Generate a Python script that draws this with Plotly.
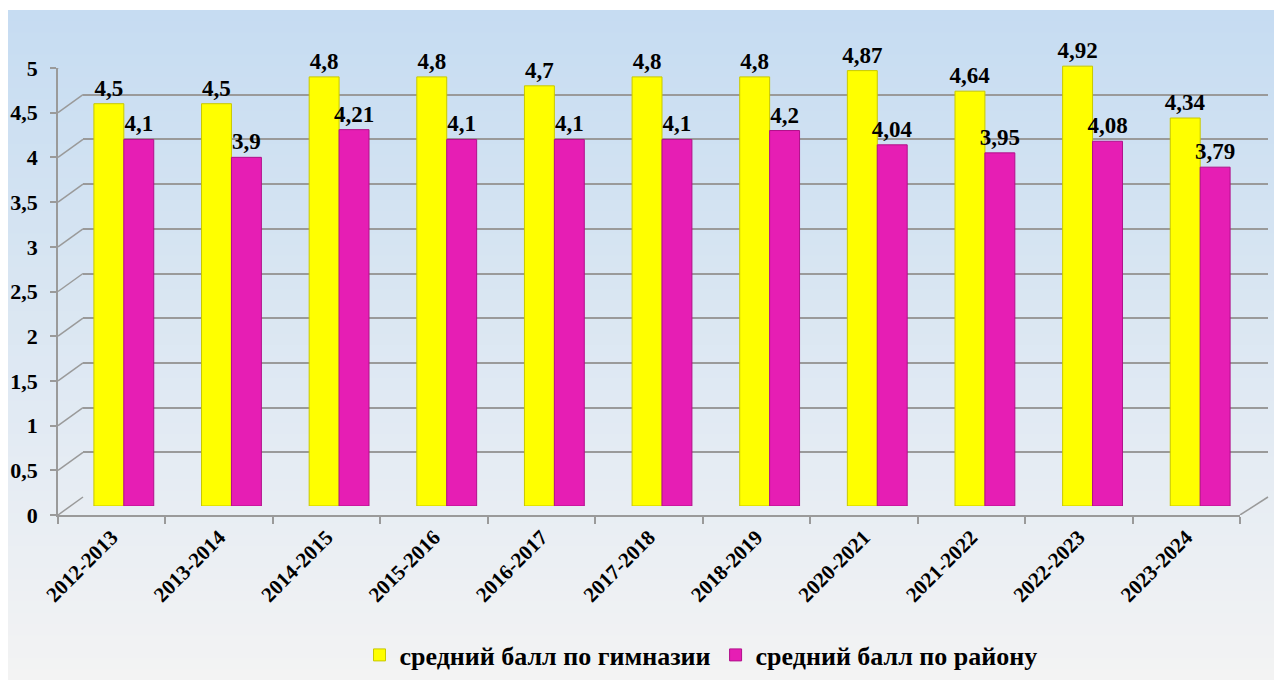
import plotly.graph_objects as go

years = ["2012-2013", "2013-2014", "2014-2015", "2015-2016", "2016-2017", "2017-2018",
         "2018-2019", "2020-2021", "2021-2022", "2022-2023", "2023-2024"]
gymnasium = [4.5, 4.5, 4.8, 4.8, 4.7, 4.8, 4.8, 4.87, 4.64, 4.92, 4.34]
district = [4.1, 3.9, 4.21, 4.1, 4.1, 4.1, 4.2, 4.04, 3.95, 4.08, 3.79]
y_ticks = [0, 0.5, 1, 1.5, 2, 2.5, 3, 3.5, 4, 4.5, 5]

# page adds an 8px body margin, so the figure is shrunk by that much
OFF = 8
W, H = 1282 - OFF, 680 - OFF


def px_x(p):
    return (p - OFF) / W


def px_y(p):
    return 1 - (p - OFF) / H


def comma(v):
    return str(v).replace(".", ",")


font_b = "Liberation Serif"
grid_col = "#9a9a9a"

fig = go.Figure()

# bars sit in the middle of the fake 3d depth
fig.add_trace(go.Bar(
    name="средний балл по гимназии", x=years, y=gymnasium,
    text=[comma(v) for v in gymnasium], textposition="outside",
    marker=dict(color="#ffff00", line=dict(color="#c8c800", width=1)),
    xaxis="x3", yaxis="y3", cliponaxis=False, constraintext="none",
))
fig.add_trace(go.Bar(
    name="средний балл по району", x=years, y=district,
    text=[comma(v) for v in district], textposition="outside",
    marker=dict(color="#e61eb4", line=dict(color="#b0108a", width=1)),
    xaxis="x3", yaxis="y3", cliponaxis=False, constraintext="none",
))
# invisible traces so the front axis and the back wall get drawn
fig.add_trace(go.Bar(x=years, y=[0] * len(years), showlegend=False,
                     hoverinfo="skip", opacity=0, xaxis="x", yaxis="y"))
fig.add_trace(go.Scatter(x=[0.5], y=[0], mode="markers", opacity=0, showlegend=False,
                         hoverinfo="skip", xaxis="x2", yaxis="y2"))

# gradient background
top = (198, 220, 242)
bot = (243, 243, 243)
n = 60
y_top, y_bot = 10, 680
shapes = []
for i in range(n):
    t = i / (n - 1)
    c = tuple(round(top[k] + (bot[k] - top[k]) * t) for k in range(3))
    a = y_top + (y_bot - y_top) * i / n
    b = y_top + (y_bot - y_top) * (i + 1) / n
    shapes.append(dict(type="rect", xref="paper", yref="paper", layer="below",
                       x0=0, x1=1, y0=px_y(b) - 0.002, y1=px_y(a),
                       fillcolor="rgb(%d,%d,%d)" % c, line=dict(width=0)))

# oblique depth lines from front axis to back wall
dy = 18 / 89.4
for v in y_ticks:
    shapes.append(dict(type="line", xref="paper", yref="y",
                       x0=px_x(58), x1=px_x(83), y0=v, y1=v + dy,
                       line=dict(color=grid_col, width=1.5)))
shapes.append(dict(type="line", xref="paper", yref="y",
                   x0=px_x(1240), x1=px_x(1268), y0=0, y1=dy,
                   line=dict(color=grid_col, width=1.5)))

fig.update_layout(
    template="none",
    width=W, height=H,
    margin=dict(l=0, r=0, t=0, b=0, pad=0),
    paper_bgcolor="white",
    plot_bgcolor="rgba(0,0,0,0)",
    separators=", ",
    barmode="group", bargap=0.444, bargroupgap=0,
    shapes=shapes,
    font=dict(family=font_b, color="black"),
    # front axes: labels and ticks
    xaxis=dict(domain=[px_x(58), px_x(1240)], anchor="y", type="category", automargin=False,
               range=[-0.5, 10.5], tickson="boundaries", ticks="outside", ticklen=7,
               tickcolor=grid_col, tickwidth=1.5, showline=True, linecolor=grid_col,
               linewidth=1.5, showgrid=False, tickangle=-45,
               tickfont=dict(family=font_b, size=21, color="black", weight="bold")),
    yaxis=dict(domain=[px_y(515), px_y(68)], anchor="x", range=[0, 5], automargin=False,
               tickvals=y_ticks, ticks="outside", ticklen=6, tickcolor=grid_col,
               tickwidth=1.5, showline=True, linecolor=grid_col, linewidth=1.5,
               showgrid=False, zeroline=False, ticklabelstandoff=8,
               tickfont=dict(family=font_b, size=22, color="black", weight="bold")),
    # back wall: gridlines only
    xaxis2=dict(domain=[px_x(83), px_x(1268)], anchor="y2", range=[0, 1], automargin=False,
                showticklabels=False, showgrid=False, zeroline=False, showline=False),
    yaxis2=dict(domain=[px_y(497), px_y(50)], anchor="x2", range=[0, 5], automargin=False,
                tickvals=y_ticks, showticklabels=False, showgrid=True,
                gridcolor=grid_col, gridwidth=1.5, zeroline=False, showline=False),
    # middle depth: bars
    xaxis3=dict(domain=[px_x(70), px_x(1254)], anchor="y3", type="category", automargin=False,
                range=[-0.5, 10.5], showticklabels=False, showgrid=False,
                zeroline=False, showline=False),
    yaxis3=dict(domain=[px_y(506), px_y(59)], anchor="x3", range=[0, 5], automargin=False,
                showticklabels=False, showgrid=False, zeroline=False, showline=False),
    legend=dict(orientation="h", x=px_x(701), xanchor="center", y=px_y(655), yanchor="middle",
                bgcolor="rgba(0,0,0,0)", traceorder="normal", itemwidth=30,
                font=dict(family=font_b, size=26, color="black", weight="bold")),
    showlegend=True,
)
fig.update_traces(textfont=dict(family=font_b, size=23, color="black", weight="bold"),
                  selector=dict(xaxis="x3"))

fig.write_html("out.html")
